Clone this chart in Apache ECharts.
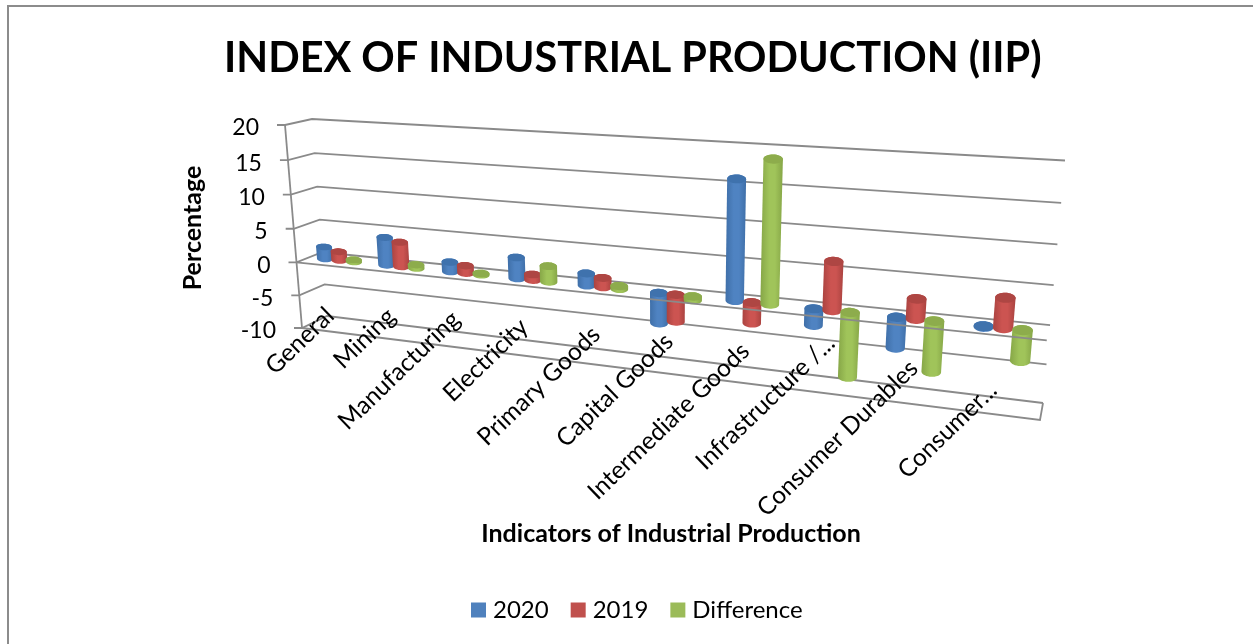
<!DOCTYPE html>
<html>
<head>
<meta charset="utf-8">
<style>html,body{margin:0;padding:0;background:#fff}#chart{width:1253px;height:644px}</style>
<script src="https://cdn.jsdelivr.net/npm/echarts@6/dist/echarts.min.js"></script>
</head>
<body>
<div id="chart"></div>
<script>
const categories = ['General','Mining','Manufacturing','Electricity','Primary Goods','Capital Goods','Intermediate Goods','Infrastructure /...','Consumer Durables','Consumer...'];
const values2020 = [1.8, 4.1, 1.4, 3.0, 1.7, -4.2, 16.0, -2.2, -4.0, -0.1];
const values2019 = [1.3, 3.6, 1.1, 0.8, 1.3, -3.7, -2.8, 6.4, 2.6, 3.8];
const valuesDifference = [0.3, 0.5, 0.2, 2.2, 0.4, -0.5, 18.8, -8.6, -6.6, -3.9];
const yTicks = [-10, -5, 0, 5, 10, 15, 20];

const FONT = 'Lato, "Open Sans", sans-serif';
const LINE = '#8a8a8a';

// Corners of the 3-D box on the page: back wall and front plane, listed
// top-left, top-right, bottom-right, bottom-left.
const backWall = [[312,119],[1065,160.5],[1043,403],[327,316]];
const frontPlane = [[285,125],[1061,172],[1040,420],[302,328]];

// Unit-square to quadrilateral homography.
function squareToQuad(q) {
  const [[x0,y0],[x1,y1],[x2,y2],[x3,y3]] = q;
  const dx1 = x1-x2, dx2 = x3-x2, sx = x0-x1+x2-x3;
  const dy1 = y1-y2, dy2 = y3-y2, sy = y0-y1+y2-y3;
  const den = dx1*dy2-dx2*dy1;
  const g = (sx*dy2-dx2*sy)/den, h = (dx1*sy-sx*dy1)/den;
  const a = x1-x0+g*x1, b = x3-x0+h*x3, c = x0;
  const d = y1-y0+g*y1, e = y3-y0+h*y3, f = y0;
  return (u,t) => {
    const w = g*u+h*t+1;
    return [(a*u+b*t+c)/w, (d*u+e*t+f)/w];
  };
}
const backMap = squareToQuad(backWall);
const frontMap = squareToQuad(frontPlane);

// u: along categories, t: down the value range, depth: 0 back .. 1 front
function project(u, t, depth) {
  const p = backMap(u,t), q = frontMap(u,t);
  return [p[0]+(q[0]-p[0])*depth, p[1]+(q[1]-p[1])*depth];
}
// Grid pixel (from the axis scales) to the unit box coordinates.
function boxCoord(api, params, cat, val) {
  const c = api.coord([cat, val]);
  const s = params.coordSys;
  return [(c[0]-s.x)/s.width, (c[1]-s.y)/s.height];
}

function convexHull(pts) {
  const s = pts.slice().sort((a,b)=>a[0]-b[0]||a[1]-b[1]);
  const cross = (o,a,b)=>(a[0]-o[0])*(b[1]-o[1])-(a[1]-o[1])*(b[0]-o[0]);
  const lo = [], up = [];
  for (const p of s) { while (lo.length>1 && cross(lo[lo.length-2],lo[lo.length-1],p)<=0) lo.pop(); lo.push(p); }
  for (const p of s.slice().reverse()) { while (up.length>1 && cross(up[up.length-2],up[up.length-1],p)<=0) up.pop(); up.push(p); }
  return lo.slice(0,-1).concat(up.slice(0,-1));
}

const CAT_SLOT = 0.24;      // spacing of the three cylinders, in category widths
const CAT_RADIUS = 0.133;   // cylinder radius, in category widths
const CAP_TILT = 0.4;       // share of the wall slope kept in the cylinder caps

function ellipseAt(u, t, du) {
  const c = project(u, t, 0.5), l = project(u-du, t, 0.5), r = project(u+du, t, 0.5);
  const ax = (r[0]-l[0])/2, ay = (r[1]-l[1])/2*CAP_TILT;
  const ry = Math.hypot(ax,ay)*(0.42+0.08*u);
  const pts = [];
  for (let k=0;k<36;k++) {
    const a = k/36*Math.PI*2;
    pts.push([c[0]+ax*Math.cos(a), c[1]+ay*Math.cos(a)+ry*Math.sin(a)]);
  }
  return pts;
}

function cylinderSeries(name, values, slot, shades) {
  return {
    name, type:'custom', coordinateSystem:'cartesian2d', silent:true, z:3,
    itemStyle:{color:shades.swatch},
    encode:{x:0,y:1},
    data: values.map((v,i)=>[i,v]),
    renderItem(params, api) {
      const cat = api.value(0), v = api.value(1);
      const band = 1/categories.length;
      const hi = boxCoord(api, params, cat, Math.max(v,0));
      const lo = boxCoord(api, params, cat, Math.min(v,0));
      const u0 = hi[0];
      const u = u0 + slot*CAT_SLOT*band*(1-0.1*u0);
      const du = CAT_RADIUS*band*(1-0.16*u0);
      const top = ellipseAt(u, hi[1], du), bottom = ellipseAt(u, lo[1], du);
      return {type:'group', children:[
        {type:'polygon', shape:{points:convexHull(top.concat(bottom))},
         style:{fill:{type:'linear',x:0,y:0,x2:1,y2:0,colorStops:[
           {offset:0,color:shades.edge},{offset:0.4,color:shades.body},{offset:0.65,color:shades.body},{offset:1,color:shades.edge}]}}},
        {type:'polygon', shape:{points:top}, style:{fill:shades.cap}}
      ]};
    }
  };
}

// Walls and floor: one stepped line per value tick, with its tick and label.
const wallSeries = {
  type:'custom', coordinateSystem:'cartesian2d', silent:true, z:1,
  encode:{x:0,y:1},
  data: yTicks.map(v=>[0,v]),
  renderItem(params, api) {
    const v = api.value(1);
    const t = boxCoord(api, params, 0, v)[1];
    const f = project(0,t,1), b = project(0,t,0), r = project(1,t,0);
    const line = {stroke:LINE, lineWidth:1.8, fill:'none'};
    const kids = [
      {type:'polyline', shape:{points:[[f[0]-8,f[1]],f,b,r]}, style:line},
      {type:'text', x:f[0]-26, y:f[1]+3, style:{text:String(v), font:'23px '+FONT, fill:'#000', align:'right', verticalAlign:'middle'}}
    ];
    if (v === yTicks[0]) {
      kids.push({type:'polyline', shape:{points:[f,project(1,t,1),r]}, style:line});
    }
    if (v === yTicks[yTicks.length-1]) {
      kids.push({type:'polyline', shape:{points:[f,project(0,boxCoord(api,params,0,yTicks[0])[1],1)]}, style:line});
    }
    return {type:'group', children:kids};
  }
};

// Front edge at zero, drawn across the columns.
const zeroLineSeries = {
  type:'custom', coordinateSystem:'cartesian2d', silent:true, z:4,
  encode:{x:0,y:1},
  data:[[0,0]],
  renderItem(params, api) {
    const t = boxCoord(api, params, 0, 0)[1];
    return {type:'polyline', shape:{points:[project(0,t,1),project(1,t,1)]},
            style:{stroke:LINE, lineWidth:1.8, fill:'none'}};
  }
};

// Slanted category labels hang from the front floor edge, each nudged to clear its neighbours.
const labelLift = [24,31,36,37,38,40,40,58,43,32];
const labelShift = [0,-1,-1,0,2,2,2,8,8,0];
const labelSeries = {
  type:'custom', coordinateSystem:'cartesian2d', silent:true, z:5,
  encode:{x:0,y:1},
  data: categories.map((c,i)=>[i,yTicks[0]]),
  renderItem(params, api) {
    const i = api.value(0);
    const b = boxCoord(api, params, i, yTicks[0]);
    const p = project(b[0], b[1], 1);
    return {type:'text', x:p[0]-2+labelShift[i], y:p[1]-labelLift[i]+4, rotation:44*Math.PI/180,
            style:{text:categories[i], font:'24.5px '+FONT, fill:'#000', align:'right', verticalAlign:'middle'}};
  }
};

const chart = echarts.init(document.getElementById('chart'), null, {renderer:'canvas'});
chart.setOption({
  animation:false,
  backgroundColor:'#fff',
  graphic:[{type:'rect', shape:{x:8,y:6,width:1400,height:800}, style:{fill:'none',stroke:'#8c8c8c',lineWidth:2}, silent:true, z:-1}],
  title:{text:'INDEX OF INDUSTRIAL PRODUCTION (IIP)', left:219, top:33,
         textStyle:{fontFamily:FONT, fontWeight:'bold', fontSize:41.4, color:'#000'}},
  legend:{data:['2020','2019','Difference'], left:466, top:593, itemWidth:15, itemHeight:15, itemGap:22, icon:'rect',
          selectedMode:false, textStyle:{fontFamily:FONT, fontSize:24, color:'#000', padding:[0,0,0,2]}},
  grid:{left:300, right:211, top:125, bottom:313},
  xAxis:{type:'category', data:categories, name:'Indicators of Industrial Production', nameLocation:'middle', nameGap:190,
         nameTextStyle:{fontFamily:FONT, fontWeight:'bold', fontSize:25, color:'#000'},
         axisLine:{show:false}, axisTick:{show:false}, axisLabel:{show:false}, splitLine:{show:false}},
  yAxis:{type:'value', min:-10, max:20, interval:5, name:'Percentage', nameLocation:'middle', nameGap:95,
         nameTextStyle:{fontFamily:FONT, fontWeight:'bold', fontSize:25, color:'#000'},
         axisLine:{show:false}, axisTick:{show:false}, axisLabel:{show:false}, splitLine:{show:false}},
  series:[
    wallSeries,
    cylinderSeries('2020', values2020, -1, {swatch:'#4f81bd', body:'#4f83c2', edge:'#3f6fa8', cap:'#3f72ad'}),
    cylinderSeries('2019', values2019, 0, {swatch:'#c0504d', body:'#cc5451', edge:'#aa4340', cap:'#ae4643'}),
    cylinderSeries('Difference', valuesDifference, 1, {swatch:'#9bbb59', body:'#a0c45a', edge:'#86a647', cap:'#8dac4c'}),
    zeroLineSeries,
    labelSeries
  ]
});
</script>
</body>
</html>
